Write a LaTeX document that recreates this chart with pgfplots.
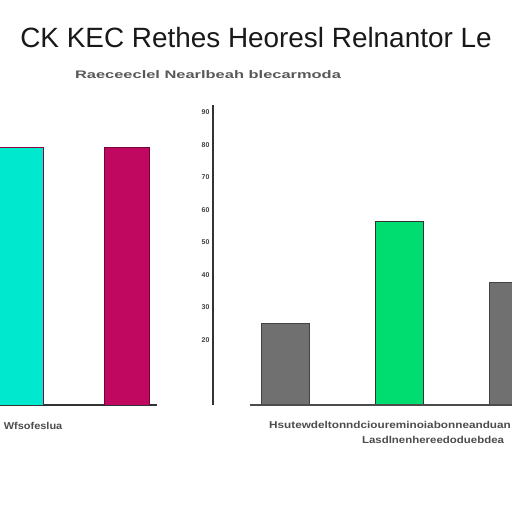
\documentclass[border=0pt]{standalone}
\usepackage{pgfplots}
\pgfplotsset{compat=1.18}
\usepackage{fontspec}
\setmainfont{Liberation Sans}
\definecolor{cteal}{RGB}{0,232,206}
\definecolor{ccrim}{RGB}{192,8,96}
\definecolor{cgreen}{RGB}{0,221,112}
\definecolor{cgray}{RGB}{112,112,112}
\begin{document}
\begin{tikzpicture}[x=1bp,y=1bp]
\useasboundingbox (0,0) rectangle (512bp,512bp);
% left panel
\begin{axis}[at={(0bp,107bp)}, anchor=south west, scale only axis,
  width=157bp, height=300bp, xmin=-0.198, xmax=1.283, ymin=0, ymax=92.3,
  axis x line*=bottom, axis y line=none, xtick=\empty, ytick=\empty,
  ybar, bar width=45bp, bar shift=0pt, x axis line style={line width=1.2pt, black!80, -}]
\addplot[fill=cteal, draw=ccrim!70!black, line width=0.8pt] coordinates {(0,79.1)};
\addplot[fill=ccrim, draw=ccrim!60!black, line width=0.8pt] coordinates {(1,79.4)};
\end{axis}
% right panel
\begin{axis}[at={(213bp,107bp)}, anchor=south west, scale only axis,
  width=299bp, height=300bp, xmin=-0.632, xmax=1.991, ymin=0, ymax=92.3,
  axis x line=none, axis y line*=left, xtick=\empty,
  ytick={20,30,...,90}, yticklabel style={font=\bfseries\fontsize{7}{8}\selectfont, black!75},
  /pgf/number format/assume math mode=true,
  y axis line style={line width=1.2pt, black!80, -}, major tick length=0pt,
  ybar, bar width=48bp, bar shift=0pt, clip=true]
\addplot[fill=cgray, draw=cgray!60!black, line width=0.8pt] coordinates {(0,25.2)};
\addplot[fill=cgreen, draw=black!80, line width=0.8pt] coordinates {(1,56.6)};
\addplot[fill=cgray, draw=cgray!60!black, line width=0.8pt] coordinates {(2,37.8)};
\end{axis}
\draw[line width=1.2pt, black!70] (250bp,107bp) -- (512bp,107bp);
% texts
\node[font=\fontsize{28}{32}\selectfont, black!90] at (256bp,474bp) {CK KEC Rethes Heoresl Relnantor Le};
\node[font=\bfseries\fontsize{11}{12}\selectfont, black!65, xscale=1.5] at (208bp,437bp) {Raeceeclel Nearlbeah blecarmoda};
\node[font=\bfseries\fontsize{10}{11}\selectfont, black!70, anchor=west, xscale=1.1] at (0bp,86bp) {Wfsofeslua};
\node[font=\bfseries\fontsize{10}{11}\selectfont, black!70, xscale=1.18] at (390bp,87bp) {Hsutewdeltonndcioureminoiabonneanduan};
\node[font=\bfseries\fontsize{10}{11}\selectfont, black!70, xscale=1.15] at (433bp,72bp) {Lasdlnenhereedoduebdea};
\end{tikzpicture}
\end{document}
